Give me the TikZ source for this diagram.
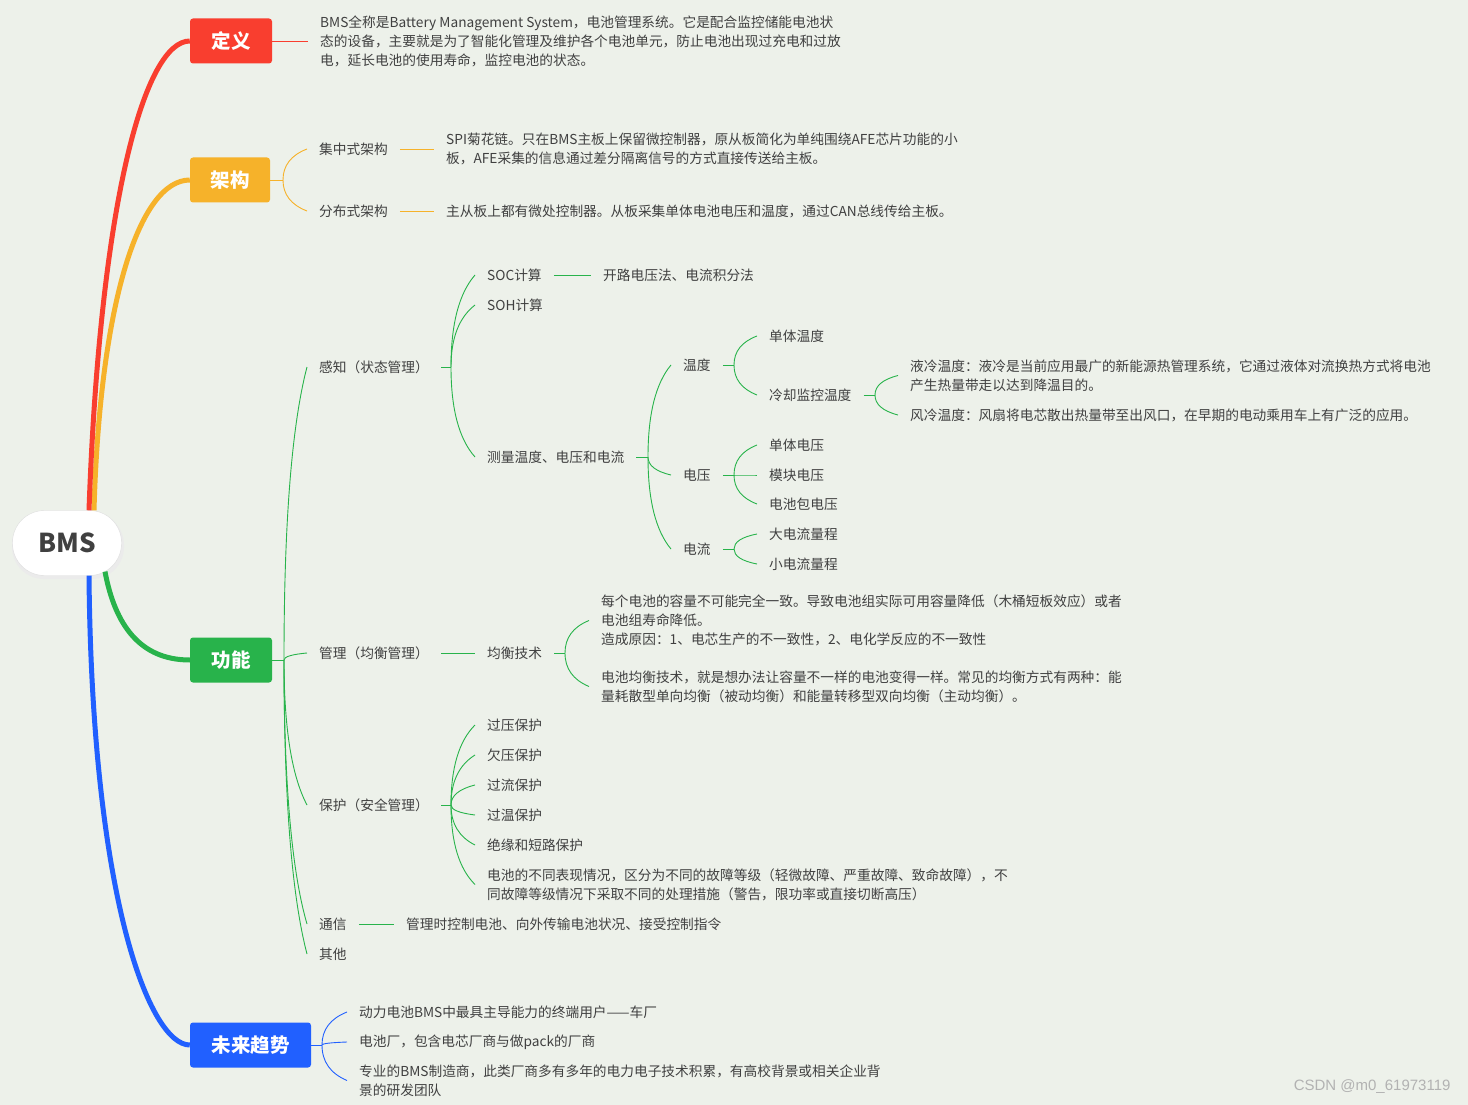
\documentclass[tikz,border=0pt]{standalone}
\usepackage{fontspec}
\setmainfont{Noto Sans CJK SC}
\newfontfamily\wmfont{Liberation Sans}
\usetikzlibrary{calc, positioning}

\definecolor{bgc}{HTML}{EDF1EA}
\definecolor{cRed}{HTML}{F93E2F}
\definecolor{cOrange}{HTML}{F6B22A}
\definecolor{cGreen}{HTML}{28B34B}
\definecolor{cBlue}{HTML}{2160FF}
\definecolor{ink}{HTML}{404040}

\tikzset{
  root/.style={draw=black!13, fill=white, rounded corners=32pt, minimum width=109pt, minimum height=65pt, text=ink, font=\fontsize{26}{30}\selectfont\bfseries},
  topic/.style={rounded corners=3pt, minimum height=45pt, inner xsep=0pt, text=white, font=\fontsize{19.5}{24}\selectfont\bfseries},
  leaf/.style={anchor=west, inner xsep=12pt, inner ysep=2pt, align=left, text=ink, font=\fontsize{13.7}{19}\selectfont},
  trunk/.style={line width=5pt},
  twig/.style={line width=0.9pt}
}

% curved twig from a fork point to the west side of a node
\newcommand\branchto[3]{%
  \coordinate (ctl) at ($(#2)!.7!(#2|-#3.west)$);
  \draw[twig,#1] (#2) .. controls ($(#2)!.667!(ctl)$) and ($(#3.west)!.667!(ctl)$) .. (#3.west);
}

\begin{document}
\begin{tikzpicture}[x=1pt, y=-1pt]
\fill[bgc] (0,0) rectangle (1468,1105);
\useasboundingbox (0,0) rectangle (1468,1105);

% main topics
\fill[black!8] (12,513) [rounded corners=32pt] rectangle (124,579);
\node[root] (bms) at (67,543) {BMS};
\node[topic, fill=cRed, minimum width=82pt] (dy) at (231,41) {定义};
\node[topic, fill=cOrange, minimum width=80pt] (jg) at (230,180) {架构};
\node[topic, fill=cGreen, minimum width=82pt] (gn) at (231,660) {功能};
\node[topic, fill=cBlue, minimum width=121pt] (qs) at (250.5,1045) {未来趋势};

\draw[trunk, cOrange] ([xshift=27pt]bms.north) .. controls (100,300) and (140,180) .. (jg.west);
\draw[trunk, cRed] ([xshift=22pt]bms.north) .. controls (100,200) and (145,41) .. (dy.west);
\draw[trunk, cGreen] ($(bms.center)+(38,28.6)$) .. controls (115,625) and (140,660) .. (gn.west);
\draw[trunk, cBlue] ([xshift=22pt]bms.south) .. controls (92,900) and (150,1045) .. (qs.west);

% definition
\node[leaf] (dyd) at (308,41) {BMS全称是Battery Management System，电池管理系统。它是配合监控储能电池状\\态的设备，主要就是为了智能化管理及维护各个电池单元，防止电池出现过充电和过放\\电，延长电池的使用寿命，监控电池的状态。};
\draw[twig, cRed] (dy.east) -- (dyd.west);

% architecture
\coordinate (jgf) at (283,180);
\node[leaf] (jzs) at (307,149) {集中式架构};
\node[leaf] (fbs) at (307,211) {分布式架构};
\node[leaf] (jzsd) at (434,149) {SPI菊花链。只在BMS主板上保留微控制器，原从板简化为单纯围绕AFE芯片功能的小\\板，AFE采集的信息通过差分隔离信号的方式直接传送给主板。};
\node[leaf] (fbsd) at (434,211) {主从板上都有微处控制器。从板采集单体电池电压和温度，通过CAN总线传给主板。};
\draw[twig, cOrange] (jg.east) -- (jgf);
\branchto{cOrange}{jgf}{jzs}
\branchto{cOrange}{jgf}{fbs}
\draw[twig, cOrange] (jzs.east) -- (jzsd.west);
\draw[twig, cOrange] (fbs.east) -- (fbsd.west);

% functions
\coordinate (gnf) at (284,660);
\node[leaf] (gz) at (307,367) {感知（状态管理）};
\node[leaf] (gl) at (307,653) {管理（均衡管理）};
\node[leaf] (bh) at (307,805) {保护（安全管理）};
\node[leaf] (tx) at (307,924) {通信};
\node[leaf] (qt) at (307,954) {其他};
\draw[twig, cGreen] (gn.east) -- (gnf);
\branchto{cGreen}{gnf}{gz}
\branchto{cGreen}{gnf}{gl}
\branchto{cGreen}{gnf}{bh}
\branchto{cGreen}{gnf}{tx}
\branchto{cGreen}{gnf}{qt}

% sensing
\coordinate (gzf) at (451,367);
\node[leaf] (soc) at (475,275) {SOC计算};
\node[leaf] (soh) at (475,305) {SOH计算};
\node[leaf] (cl) at (475,457) {测量温度、电压和电流};
\node[leaf] (socd) at (591,275) {开路电压法、电流积分法};
\draw[twig, cGreen] (gz.east) -- (gzf);
\branchto{cGreen}{gzf}{soc}
\branchto{cGreen}{gzf}{soh}
\branchto{cGreen}{gzf}{cl}
\draw[twig, cGreen] (soc.east) -- (socd.west);

\coordinate (clf) at (648,457);
\node[leaf] (wd) at (671,365) {温度};
\node[leaf] (dya) at (671,475) {电压};
\node[leaf] (dl) at (671,549) {电流};
\draw[twig, cGreen] (cl.east) -- (clf);
\branchto{cGreen}{clf}{wd}
\branchto{cGreen}{clf}{dya}
\branchto{cGreen}{clf}{dl}

\coordinate (wdf) at (734,365);
\node[leaf] (dtw) at (757,336) {单体温度};
\node[leaf] (lq) at (757,395) {冷却监控温度};
\draw[twig, cGreen] (wd.east) -- (wdf);
\branchto{cGreen}{wdf}{dtw}
\branchto{cGreen}{wdf}{lq}

\coordinate (lqf) at (875,395);
\node[leaf] (ylw) at (898,375.5) {液冷温度：液冷是当前应用最广的新能源热管理系统，它通过液体对流换热方式将电池\\产生热量带走以达到降温目的。};
\node[leaf] (flw) at (898,415) {风冷温度：风扇将电芯散出热量带至出风口，在早期的电动乘用车上有广泛的应用。};
\draw[twig, cGreen] (lq.east) -- (lqf);
\branchto{cGreen}{lqf}{ylw}
\branchto{cGreen}{lqf}{flw}

\coordinate (dyf) at (734,475);
\node[leaf] (dtv) at (757,445) {单体电压};
\node[leaf] (mkv) at (757,475) {模块电压};
\node[leaf] (bv) at (757,504) {电池包电压};
\draw[twig, cGreen] (dya.east) -- (dyf);
\branchto{cGreen}{dyf}{dtv}
\branchto{cGreen}{dyf}{mkv}
\branchto{cGreen}{dyf}{bv}

\coordinate (dlf) at (734,549);
\node[leaf] (dc) at (757,534) {大电流量程};
\node[leaf] (xc) at (757,564) {小电流量程};
\draw[twig, cGreen] (dl.east) -- (dlf);
\branchto{cGreen}{dlf}{dc}
\branchto{cGreen}{dlf}{xc}

% balancing
\node[leaf] (jhjs) at (475,653) {均衡技术};
\coordinate (jhf) at (565,653);
\node[leaf] (jh1) at (589,620.5) {每个电池的容量不可能完全一致。导致电池组实际可用容量降低（木桶短板效应）或者\\电池组寿命降低。\\造成原因：1、电芯生产的不一致性，2、电化学反应的不一致性};
\node[leaf] (jh2) at (589,686.5) {电池均衡技术，就是想办法让容量不一样的电池变得一样。常见的均衡方式有两种：能\\量耗散型单向均衡（被动均衡）和能量转移型双向均衡（主动均衡）。};
\draw[twig, cGreen] (gl.east) -- (jhjs.west);
\draw[twig, cGreen] (jhjs.east) -- (jhf);
\branchto{cGreen}{jhf}{jh1}
\branchto{cGreen}{jhf}{jh2}

% protection
\coordinate (bhf) at (451,805);
\node[leaf] (gy) at (475,725) {过压保护};
\node[leaf] (qy) at (475,755) {欠压保护};
\node[leaf] (gls) at (475,785) {过流保护};
\node[leaf] (gw) at (475,815) {过温保护};
\node[leaf] (jy) at (475,845) {绝缘和短路保护};
\node[leaf] (gzdj) at (475,884.5) {电池的不同表现情况，区分为不同的故障等级（轻微故障、严重故障、致命故障），不\\同故障等级情况下采取不同的处理措施（警告，限功率或直接切断高压）};
\draw[twig, cGreen] (bh.east) -- (bhf);
\branchto{cGreen}{bhf}{gy}
\branchto{cGreen}{bhf}{qy}
\branchto{cGreen}{bhf}{gls}
\branchto{cGreen}{bhf}{gw}
\branchto{cGreen}{bhf}{jy}
\branchto{cGreen}{bhf}{gzdj}

% communication
\node[leaf] (txd) at (394,924) {管理时控制电池、向外传输电池状况、接受控制指令};
\draw[twig, cGreen] (tx.east) -- (txd.west);

% trends
\coordinate (qsf) at (322,1045);
\node[leaf] (cc) at (347,1012) {动力电池BMS中最具主导能力的终端用户——车厂};
\node[leaf] (dcc) at (347,1042) {电池厂，包含电芯厂商与做pack的厂商};
\node[leaf] (zy) at (347,1080.5) {专业的BMS制造商，此类厂商多有多年的电力电子技术积累，有高校背景或相关企业背\\景的研发团队};
\draw[twig, cBlue] (qs.east) -- (qsf);
\branchto{cBlue}{qsf}{cc}
\branchto{cBlue}{qsf}{dcc}
\branchto{cBlue}{qsf}{zy}

\node[anchor=east, text=black!30, font=\wmfont\fontsize{15}{18}\selectfont] (wm) at (1454,1087) {CSDN @m0\_61973119};
\end{tikzpicture}
\end{document}
